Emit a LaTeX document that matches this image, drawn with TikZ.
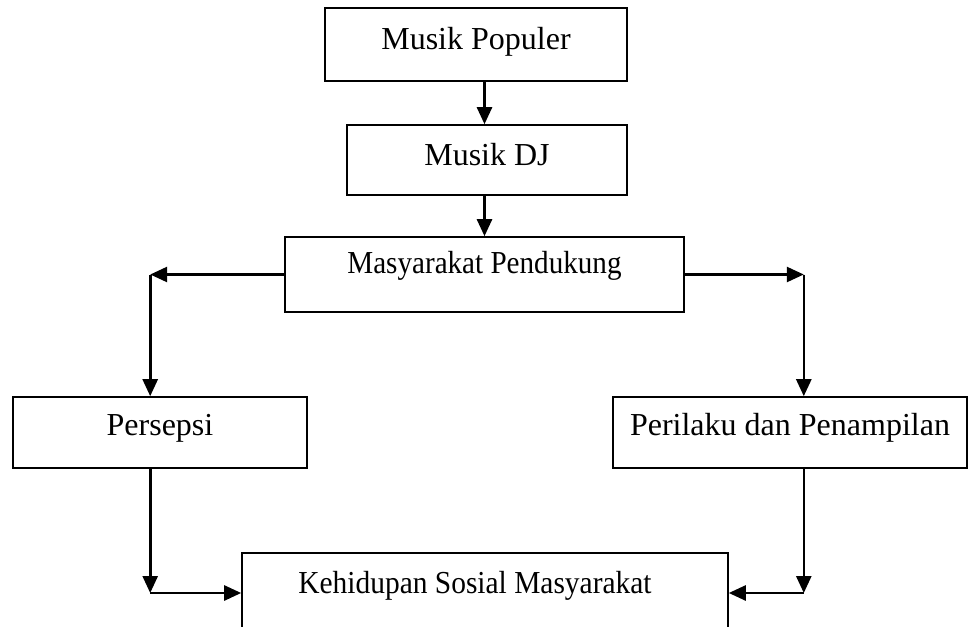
\documentclass[tikz,border=0pt]{standalone}
\usepackage{fontspec}
\setmainfont{Liberation Serif}
\usepackage{graphicx}
\usetikzlibrary{arrows.meta,positioning,calc}

\begin{document}
\begin{tikzpicture}[x=0.5pt, y=-0.5pt,
    kotak/.style={rectangle, draw=black, line width=0.8pt, inner sep=0pt,
        font=\fontsize{16}{19}\selectfont},
    panah/.style={-{Triangle[length=8.5pt, width=7.5pt]}, line width=1.3pt}
]
    \useasboundingbox (0,0) rectangle (971,627);
    \clip (0,0) rectangle (971,627);

    % Top chain
    \node[kotak, minimum width=151pt, text height=20.5pt, text depth=16pt] (populer) at (476,44.5) {Musik Populer};
    \node[kotak, minimum width=140pt, text height=20pt, text depth=15pt] (dj) at (487,160) {Musik DJ};
    \node[kotak, minimum width=199.5pt, text height=18pt, text depth=19.5pt] (pendukung) at (484.5,274.5) {\scalebox{0.91}[1]{Masyarakat Pendukung}};

    % Two branches
    \node[kotak, minimum width=147pt, text height=19pt, text depth=16.5pt] (persepsi) at (160,432.5) {Persepsi};
    \node[kotak, minimum width=177pt, text height=19pt, text depth=16.5pt] (perilaku) at (790,432.5) {Perilaku dan Penampilan};

    % Result
    \node[kotak, minimum width=243pt, text height=20pt, text depth=20pt] (kehidupan) at (485,593) {\scalebox{0.92}[1]{Kehidupan Sosial Masyarakat}\hspace*{10pt}};

    % Corner points of the elbows
    \coordinate (kiri) at ([xshift=-67pt]pendukung.west);
    \coordinate (kanan) at ([xshift=59.5pt]pendukung.east);
    \coordinate (kiribawah) at (kiri |- kehidupan.west);
    \coordinate (kananbawah) at (kanan |- kehidupan.east);

    % Vertical arrows
    \draw[panah] (populer.south -| pendukung.north) -- (dj.north -| pendukung.north);
    \draw[panah] (dj.south -| pendukung.north) -- (pendukung.north);

    % Split to both sides
    \draw[panah] (pendukung.west) -- (kiri);
    \draw[panah] (kiri) -- (kiri |- persepsi.north);
    \draw[panah] (pendukung.east) -- (kanan);
    \draw[panah] (kanan) -- (kanan |- perilaku.north);

    % Join at the bottom
    \draw[panah] (kiri |- persepsi.south) -- (kiribawah);
    \draw[panah] (kiribawah) -- (kehidupan.west);
    \draw[panah] (kanan |- perilaku.south) -- (kananbawah);
    \draw[panah] (kananbawah) -- (kehidupan.east);
\end{tikzpicture}
\end{document}
